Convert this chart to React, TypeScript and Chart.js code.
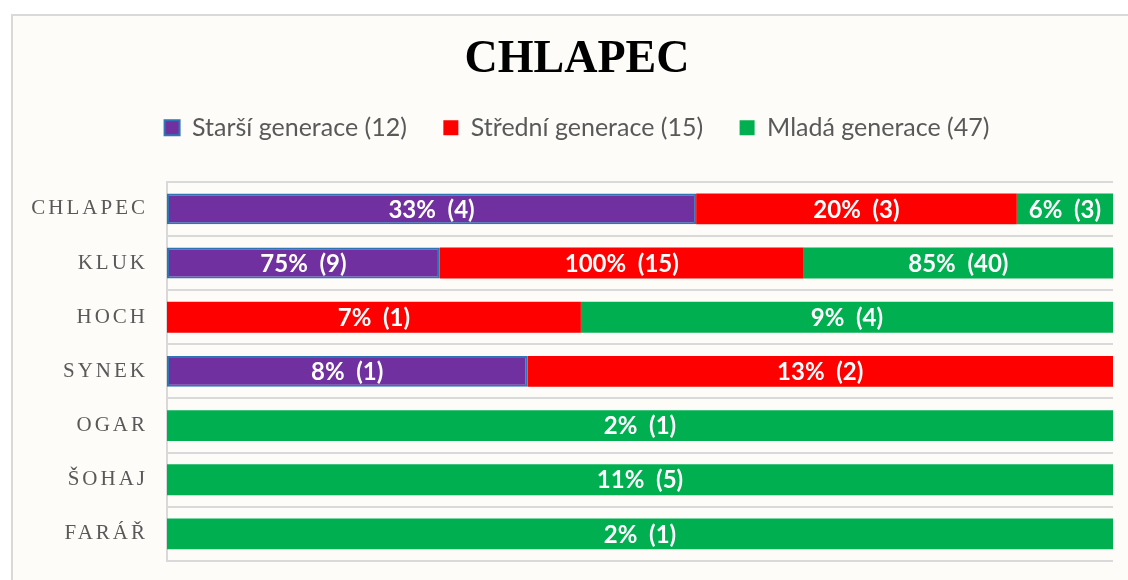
import React, { useEffect, useRef } from "react";
import { Chart, registerables, CategoryScale } from "chart.js";

Chart.register(...registerables);

class SpacedCategoryScale extends CategoryScale {
  static id = "spacedCategory";
  static defaults = CategoryScale.defaults;
  _computeLabelArea() {
    return undefined;
  }
  drawLabels(chartArea: any) {
    const ctx: any = this.ctx;
    ctx.save();
    ctx.letterSpacing = "3px";
    super.drawLabels(chartArea);
    ctx.restore();
  }
}
Chart.register(SpacedCategoryScale as any);

const categories = ["CHLAPEC", "KLUK", "HOCH", "SYNEK", "OGAR", "ŠOHAJ", "FARÁŘ"];
const seriesNames = ["Starší generace (12)", "Střední generace (15)", "Mladá generace (47)"];
const starsiPct = [33, 75, 0, 8, 0, 0, 0];
const starsiCount = [4, 9, 0, 1, 0, 0, 0];
const stredniPct = [20, 100, 7, 13, 0, 0, 0];
const stredniCount = [3, 15, 1, 2, 0, 0, 0];
const mladaPct = [6, 85, 9, 0, 2, 11, 2];
const mladaCount = [3, 40, 4, 0, 1, 5, 1];

const pcts = [starsiPct, stredniPct, mladaPct];
const counts = [starsiCount, stredniCount, mladaCount];
const rowTotals = categories.map((_, i) => starsiPct[i] + stredniPct[i] + mladaPct[i]);
const share = (arr: number[]) => arr.map((v, i) => (v ? v / rowTotals[i] : null));

const valueLabels = {
  id: "valueLabels",
  afterDatasetsDraw(chart: any) {
    const ctx = chart.ctx;
    ctx.save();
    ctx.font = "bold 24px Lato";
    ctx.fillStyle = "#ffffff";
    ctx.textAlign = "center";
    ctx.textBaseline = "middle";
    chart.data.datasets.forEach((_: any, di: number) => {
      const meta = chart.getDatasetMeta(di);
      meta.data.forEach((el: any, i: number) => {
        const p = pcts[di][i];
        if (!p) return;
        const { x, base, y } = el.getProps(["x", "base", "y"], true);
        ctx.fillText(`${p}%  (${counts[di][i]})`, (x + base) / 2, y + 1);
      });
    });
    ctx.restore();
  },
};

export default function App() {
  const ref = useRef<HTMLCanvasElement | null>(null);
  useEffect(() => {
    if (!ref.current) return;
    const chart = new Chart(ref.current, {
      type: "bar",
      data: {
        labels: categories,
        datasets: [
          {
            label: seriesNames[0],
            data: share(starsiPct),
            backgroundColor: "#7030A0",
            borderColor: "#2E75B6",
            borderWidth: 2,
            borderSkipped: false,
          },
          {
            label: seriesNames[1],
            data: share(stredniPct),
            backgroundColor: "#FF0000",
            borderWidth: 0,
          },
          {
            label: seriesNames[2],
            data: share(mladaPct),
            backgroundColor: "#00B050",
            borderWidth: 0,
          },
        ],
      },
      options: {
        indexAxis: "y",
        responsive: false,
        animation: false,
        devicePixelRatio: 1,
        layout: { padding: { left: 28, right: 27, top: 0, bottom: 19 } },
        datasets: { bar: { barPercentage: 0.57, categoryPercentage: 1 } },
        scales: {
          x: {
            stacked: true,
            min: 0,
            max: 1,
            position: "top",
            display: true,
            ticks: { display: false },
            grid: { display: false },
            border: { display: false },
            afterFit: (s: any) => {
              s.height = 31.5;
            },
          },
          y: {
            type: "spacedCategory" as any,
            stacked: true,
            afterFit: (s: any) => {
              s.width = 126;
              s.paddingTop = 0;
              s.paddingBottom = 0;
            },
            grid: { color: "#D9D9D9", lineWidth: 2, drawTicks: false, offset: true },
            border: { color: "#D9D9D9", width: 2 },
            ticks: {
              color: "#595959",
              padding: 19,
              font: { family: "Liberation Serif", size: 21 },
            },
          },
        },
        plugins: {
          title: {
            display: true,
            text: "CHLAPEC",
            color: "#000000",
            font: { family: "Liberation Serif", size: 46, weight: "bold", lineHeight: 0.8 },
            padding: { top: 26, bottom: 0 },
          },
          legend: {
            display: true,
            labels: {
              color: "#595959",
              font: { family: "Lato", size: 25 },
              boxWidth: 15,
              boxHeight: 15,
              padding: 36.5,
            },
          },
          tooltip: { enabled: false },
        },
      },
      plugins: [valueLabels],
    } as any);
    return () => chart.destroy();
  }, []);

  return (
    <div style={{ position: "fixed", left: 0, top: 0, width: 1128, height: 580, overflow: "hidden", background: "#ffffff" }}>
      <div
        style={{
          position: "absolute",
          left: 11,
          top: 14,
          width: 1127,
          height: 600,
          border: "2px solid #D9D9D9",
          background: "#FDFCF8",
        }}
      >
        <canvas ref={ref} width={1127} height={564} style={{ display: "block" }} />
      </div>
    </div>
  );
}
